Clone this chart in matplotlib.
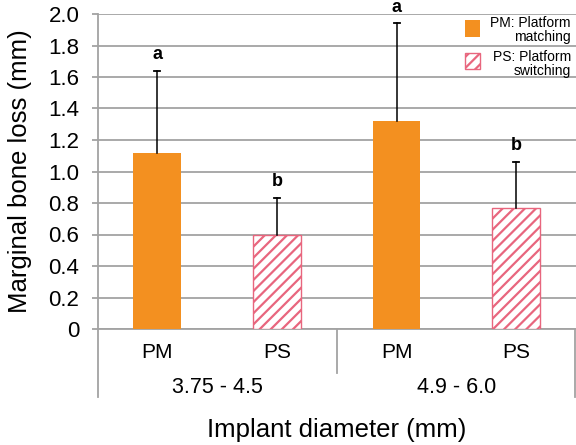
import matplotlib
matplotlib.use("Agg")
import matplotlib.pyplot as plt
from matplotlib.patches import Rectangle
import numpy as np

# data
subgroups = ["PM", "PS", "PM", "PS"]
groups = ["3.75 - 4.5", "4.9 - 6.0"]
bone_loss = [1.12, 0.60, 1.32, 0.77]
err_top = [1.64, 0.83, 1.94, 1.06]
letters = ["a", "b", "a", "b"]
legend_labels = ["PM: Platform\nmatching", "PS: Platform\nswitching"]

orange = "#f39020"
pink = "#e8667e"
grid_c = "#a3a3a3"

plt.rcParams['font.family'] = ['Liberation Sans', 'DejaVu Sans']
plt.rcParams['hatch.linewidth'] = 1.6
plt.rcParams['hatch.color'] = pink

fig = plt.figure(figsize=(5.76, 4.45), dpi=100)
ax = fig.add_axes([97.5/576, 1-329/445, 1-97.5/576, 315/445])

x = np.arange(len(bone_loss))
for i in x:
    if subgroups[i] == "PM":
        ax.bar(x[i], bone_loss[i], width=0.4, color=orange, zorder=3)
    else:
        ax.bar(x[i], bone_loss[i], width=0.4, facecolor="white", edgecolor=pink,
               hatch="///", lw=1, zorder=3)
    # upper error bar only
    ax.plot([x[i], x[i]], [bone_loss[i], err_top[i]], color="black", lw=1.1, zorder=4)
    ax.plot([x[i] - 0.025, x[i] + 0.025], [err_top[i], err_top[i]], color="black", lw=1.3, zorder=4)
    ax.text(x[i], err_top[i] + 0.05, letters[i], ha="center", va="bottom",
            fontsize=13, fontweight="bold")

ax.set_xlim(-0.5, 3.5)
ax.set_ylim(0, 2.0)
ax.set_yticks(np.arange(0, 2.01, 0.2))
ax.set_yticklabels(["0"] + ["%.1f" % v for v in np.arange(0.2, 2.01, 0.2)])
ax.yaxis.grid(True, color=grid_c, lw=1.3, zorder=0)
ax.tick_params(axis="y", length=4, color=grid_c, width=1.3, labelsize=16, pad=9)
ax.set_xticks(x)
ax.set_xticklabels([])
ax.tick_params(axis="x", length=0)
for s in ["top", "right"]:
    ax.spines[s].set_visible(False)
ax.spines["left"].set_color(grid_c)
ax.spines["left"].set_linewidth(1.3)
ax.spines["bottom"].set_color(grid_c)
ax.spines["bottom"].set_linewidth(1.3)

trans = ax.get_xaxis_transform()
# category axis separators
ax.plot([-0.5, -0.5], [0, -0.216], transform=trans, color=grid_c, lw=1.3, clip_on=False)
ax.plot([1.5, 1.5], [0, -0.14], transform=trans, color=grid_c, lw=1.3, clip_on=False)
ax.plot([3.49, 3.49], [0, -0.216], transform=trans, color=grid_c, lw=1.3, clip_on=False)

for i in x:
    ax.text(x[i], -0.076, subgroups[i], transform=trans, ha="center", va="center", fontsize=15)
for j, g in enumerate(groups):
    ax.text(2*j + 0.5, -0.187, g, transform=trans, ha="center", va="center", fontsize=15.5)
ax.text(1.5, -0.32, "Implant diameter (mm)", transform=trans, ha="center", va="center", fontsize=18.5)
ax.text(-0.161, 0.5, "Marginal bone loss (mm)", transform=ax.transAxes, rotation=90,
        ha="center", va="center", fontsize=18.5)

# legend drawn by hand (right aligned labels)
fig.add_artist(Rectangle((465/576, 1-37/445), 15/576, 17/445, transform=fig.transFigure,
                         facecolor=orange, edgecolor="none"))
fig.add_artist(Rectangle((465/576, 1-69/445), 15/576, 16/445, transform=fig.transFigure,
                         facecolor="white", edgecolor=pink, hatch="///", lw=1))
fig.text(571/576, 1-16/445, legend_labels[0], ha="right", va="top", fontsize=10,
         multialignment="right", linespacing=1.0)
fig.text(571/576, 1-50/445, legend_labels[1], ha="right", va="top", fontsize=10,
         multialignment="right", linespacing=1.0)

plt.savefig("out.png", dpi=100)
